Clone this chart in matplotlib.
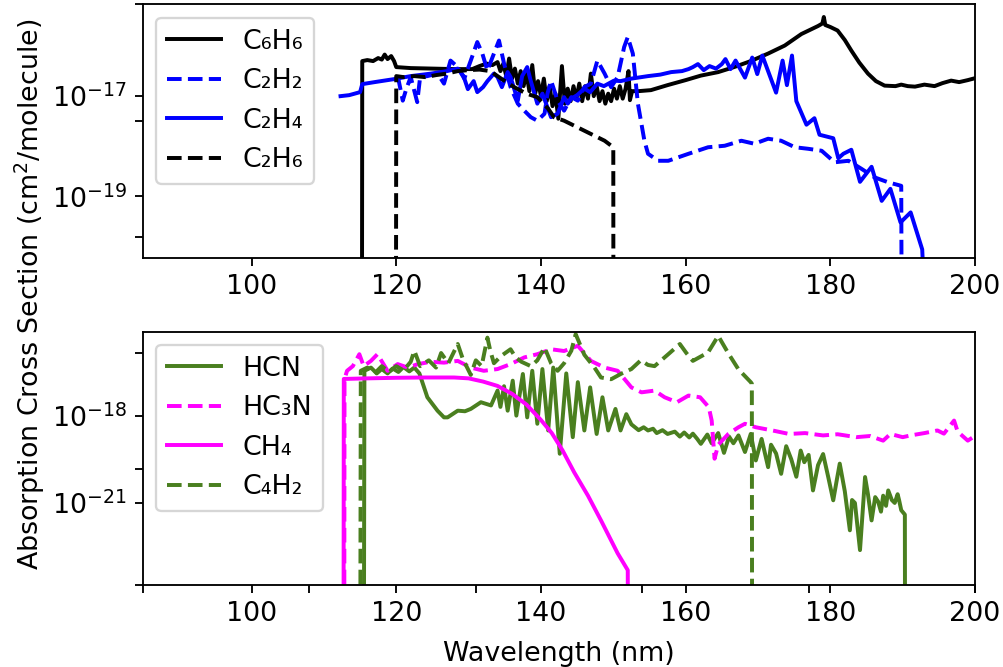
import numpy as np
import matplotlib.pyplot as plt

# wavelengths (nm) and log10 cross sections (cm^2/molecule)
c6h6_wl = [115.2, 115.3, 116.0, 116.8, 117.5, 118.0, 118.4, 118.8, 119.3, 119.7, 120.0, 122, 125, 128,
           130.5, 131.5, 132.5, 133.3, 134.0, 134.4, 134.8, 135.2, 135.6, 136.0, 136.4, 136.8, 137.2,
           137.6, 138.0, 138.4, 138.8, 139.2, 139.6, 140.0, 140.4, 140.8, 141.2, 141.6, 142.0, 142.4,
           142.9, 143.3, 143.7, 144.1, 144.5, 144.9, 145.3, 145.7, 146.1, 146.5, 146.9, 147.3, 147.7,
           148.1, 148.5, 148.9, 149.3, 149.7, 150.1, 150.5, 150.9, 151.3, 151.7, 152.1, 152.3, 152.6,
           153.5, 155.2, 157.5, 160.0, 162.1, 164.5, 166.7, 169.0, 171.4, 173.7, 176.0, 178.3, 178.9,
           179.1, 179.3, 180.0, 181.0, 182.0, 182.9, 184.0, 185.2, 186.3, 187.5, 189.0, 189.8, 190.7,
           191.7, 193.0, 194.4, 195.5, 196.7, 197.8, 199.0, 200.3]
c6h6_lg = [-30, -16.30, -16.28, -16.30, -16.24, -16.27, -16.17, -16.26, -16.20, -16.30, -16.42, -16.44,
           -16.45, -16.46, -16.46, -16.40, -16.35, -16.38, -16.32, -16.50, -16.35, -16.60, -16.25, -16.65,
           -16.45, -16.75, -16.50, -16.80, -16.55, -16.90, -16.38, -16.95, -16.70, -17.00, -16.65, -17.10,
           -16.80, -17.20, -16.95, -17.45, -16.40, -17.15, -16.85, -17.10, -16.80, -17.05, -16.75, -17.10,
           -16.80, -17.05, -16.55, -17.00, -16.80, -17.10, -16.90, -17.15, -16.95, -17.10, -16.85, -17.05,
           -16.80, -17.05, -16.85, -16.50, -17.08, -16.90, -16.90, -16.88, -16.78, -16.68, -16.59, -16.52,
           -16.42, -16.30, -16.15, -15.99, -15.76, -15.60, -15.55, -15.42, -15.58, -15.62, -15.69, -15.88,
           -16.09, -16.33, -16.55, -16.70, -16.79, -16.80, -16.77, -16.80, -16.81, -16.77, -16.80, -16.74,
           -16.69, -16.72, -16.68, -16.63]

c2h2_wl = [120.2, 120.9, 121.4, 122.0, 122.9, 123.3, 124.3, 125.7, 126.6, 127.5, 128.5, 129.4, 130.3,
           131.2, 131.9, 132.6, 133.5, 134.2, 134.9, 135.8, 136.8, 137.7, 138.6, 139.5, 140.5, 140.9,
           141.4, 142.3, 143.2, 144.2, 145.1, 146.0, 146.9, 147.8, 148.8, 149.7, 150.6, 151.5, 152.0,
           152.7, 153.4, 154.3, 154.8, 156.2, 157.6, 160.4, 163.1, 165.4, 167.7, 169.5, 171.4, 173.2,
           175.1, 176.9, 178.8, 180.6, 182.5, 184.3, 186.1, 188.0, 189.8, 190.05]
c2h2_lg = [-16.59, -17.09, -16.85, -16.62, -17.12, -16.62, -16.60, -16.55, -16.75, -16.29, -16.42, -16.65,
           -16.29, -15.92, -16.15, -16.49, -16.15, -15.89, -16.35, -16.82, -17.15, -17.29, -17.42, -17.49,
           -17.35, -16.95, -16.69, -17.09, -17.29, -17.02, -17.09, -16.82, -16.75, -16.29, -16.55, -16.82,
           -16.62, -16.02, -15.82, -16.15, -17.15, -17.89, -18.15, -18.29, -18.29, -18.15, -18.02, -17.99,
           -17.89, -17.95, -17.85, -17.89, -18.02, -18.05, -18.09, -18.32, -18.29, -18.45, -18.62, -18.72,
           -18.79, -30]

c2h4_wl = [112.3, 113.5, 115.0, 115.3, 117.0, 119.7, 122.0, 124.8, 127.0, 128.5, 129.3, 129.9, 130.7,
           131.2, 132.0, 132.6, 133.5, 134.0, 134.6, 135.4, 135.8, 136.8, 137.4, 138.1, 138.6, 139.5,
           140.2, 141.4, 142.3, 143.2, 143.7, 144.2, 145.0, 146.0, 146.8, 147.8, 148.7, 150.1, 151.0,
           152.5, 154.8, 156.5, 158.0, 159.5, 160.4, 161.0, 161.7, 162.5, 163.3, 164.2, 165.0, 165.5,
           166.2, 166.9, 168.2, 169.2, 169.9, 170.6, 172.5, 173.4, 174.0, 174.7, 175.3, 176.7, 177.8,
           178.5, 180.4, 181.1, 181.8, 182.9, 184.1, 185.7, 187.1, 188.3, 189.7, 191.1, 192.7, 193.0]
c2h4_lg = [-17.00, -16.98, -16.92, -16.76, -16.72, -16.66, -16.60, -16.55, -16.50, -16.45, -16.60, -16.86,
           -16.70, -16.92, -16.82, -16.70, -16.55, -16.62, -16.82, -16.52, -16.62, -17.09, -16.60, -16.42,
           -16.70, -17.15, -16.95, -17.42, -17.35, -17.02, -17.15, -17.05, -16.98, -16.85, -16.92, -16.75,
           -16.80, -16.69, -16.70, -16.65, -16.60, -16.57, -16.52, -16.50, -16.46, -16.42, -16.36, -16.48,
           -16.40, -16.45, -16.36, -16.26, -16.46, -16.29, -16.63, -16.23, -16.56, -16.19, -16.93, -16.29,
           -16.78, -16.19, -17.10, -17.57, -17.44, -17.77, -17.84, -18.24, -18.15, -18.07, -18.71, -18.41,
           -19.09, -18.85, -19.52, -19.32, -20.06, -21.0]

c2h6_wl = [119.9, 120.0, 121.0, 122.5, 124.0, 125.5, 127.0, 128.5, 130.0, 131.5, 133.0, 134.5, 136.3,
           138.0, 139.5, 141.0, 141.8, 143.2, 146.0, 148.8, 150.0, 150.05]
c2h6_lg = [-30, -16.60, -16.62, -16.60, -16.62, -16.58, -16.55, -16.50, -16.48, -16.47, -16.50, -16.65,
           -16.82, -16.95, -17.02, -17.25, -17.42, -17.49, -17.69, -17.89, -18.02, -30]

hcn_wl = [115.5, 115.6, 116.5, 117.3, 118.0, 118.8, 119.5, 120.3, 121.0, 121.8, 122.5, 123.2, 124.3,
          125.7, 126.6, 127.1, 128.5, 129.5, 130.3, 131.7, 133.1, 134.0, 134.4, 134.9, 135.4, 136.1,
          136.6, 137.5, 138.1, 138.8, 139.5, 140.2, 141.0, 141.7, 142.6, 143.5, 144.4, 145.1, 146.0,
          146.8, 147.7, 148.5, 149.3, 150.3, 151.0, 151.8, 152.5, 153.5, 154.2, 154.8, 155.5, 156.0,
          156.8, 157.5, 158.5, 159.2, 159.8, 160.5, 161.0, 161.6, 162.1, 163.0, 163.6, 164.5, 165.3,
          166.0, 166.6, 167.3, 168.2, 169.0, 169.7, 170.5, 171.4, 171.8, 172.5, 173.2, 173.9, 174.6,
          175.3, 175.9, 176.4, 177.0, 177.6, 178.3, 179.0, 179.7, 180.4, 180.9, 181.3, 182.0, 182.7,
          183.0, 183.4, 184.1, 184.8, 185.2, 185.7, 186.2, 186.6, 187.0, 187.3, 187.7, 188.0, 188.5,
          188.9, 189.3, 189.5, 189.8, 190.3, 190.35]
hcn_lg = [-30, -16.46, -16.35, -16.55, -16.40, -16.55, -16.38, -16.50, -16.33, -16.48, -16.35, -16.55,
          -17.37, -17.83, -18.06, -18.06, -17.83, -17.85, -17.77, -17.54, -17.65, -17.14, -17.70, -16.99,
          -17.83, -16.80, -18.00, -16.57, -18.06, -16.46, -18.28, -16.40, -18.51, -16.35, -19.31, -16.55,
          -18.74, -16.85, -18.51, -17.03, -18.63, -17.37, -18.51, -17.77, -18.51, -17.95, -18.30, -18.50,
          -18.40, -18.51, -18.45, -18.60, -18.50, -18.63, -18.55, -18.72, -18.58, -18.75, -18.62, -18.80,
          -18.97, -18.65, -18.95, -18.60, -19.28, -18.72, -18.95, -18.68, -19.25, -18.63, -19.54, -18.80,
          -19.77, -19.00, -19.30, -20.00, -19.05, -19.50, -20.10, -19.20, -19.60, -19.35, -20.57, -19.70,
          -19.32, -20.10, -20.91, -20.20, -19.65, -20.60, -21.94, -20.90, -21.00, -22.62, -20.11, -20.70,
          -21.60, -20.80, -20.95, -21.30, -20.75, -21.10, -20.57, -20.90, -21.00, -20.70, -20.90, -21.25,
          -21.40, -30]

hc3n_wl = [112.8, 112.85, 113.2, 114.0, 114.9, 115.5, 116.5, 117.4, 118.8, 120.2, 121.6, 123.0, 124.8,
           126.6, 128.5, 130.3, 132.1, 134.0, 135.8, 137.7, 139.5, 141.4, 143.2, 145.1, 146.9, 148.8,
           150.6, 152.5, 153.9, 155.7, 157.1, 158.8, 160.4, 162.0, 163.2, 163.6, 164.0, 164.5, 165.9,
           167.3, 168.2, 169.7, 172.0, 174.3, 176.5, 179.0, 181.0, 183.6, 185.5, 187.3, 188.3, 190.0,
           191.1, 193.0, 194.8, 195.7, 197.1, 197.6, 199.0, 200.4]
hc3n_lg = [-30, -16.74, -16.46, -16.30, -15.89, -16.30, -16.12, -15.89, -16.46, -16.23, -16.35, -16.23,
           -16.15, -16.18, -16.12, -16.35, -16.46, -16.40, -16.23, -16.00, -15.89, -15.72, -15.78, -15.60,
           -16.12, -16.35, -16.46, -17.03, -17.20, -17.14, -17.37, -17.54, -17.31, -17.37, -17.71, -18.17,
           -19.48, -19.00, -18.63, -18.40, -18.28, -18.40, -18.51, -18.63, -18.60, -18.68, -18.64, -18.74,
           -18.70, -18.86, -18.63, -18.74, -18.68, -18.60, -18.51, -18.62, -18.17, -18.55, -18.86, -18.63]

ch4_wl = [112.7, 112.75, 116, 120, 124, 128, 130, 132, 134, 136, 138, 140, 141.5, 143, 144.6, 146.5,
          148.3, 150.6, 152.0, 152.05]
ch4_lg = [-30, -16.74, -16.72, -16.70, -16.69, -16.69, -16.72, -16.83, -16.98, -17.25, -17.62, -18.15,
          -18.60, -19.20, -19.95, -20.75, -21.60, -22.73, -23.31, -30]

c4h2_wl = [115.0, 115.1, 116.0, 117.0, 118.0, 119.0, 120.0, 121.0, 122.0, 122.5, 123.3, 124.5, 125.5,
           126.2, 127.2, 128.5, 129.2, 130.3, 131.0, 131.8, 132.6, 133.0, 133.5, 134.5, 135.8, 136.5,
           137.3, 138.6, 139.5, 140.5, 141.4, 142.3, 143.2, 144.2, 144.8, 146.0, 147.4, 148.3, 149.7,
           151.1, 152.5, 153.8, 154.8, 155.7, 157.6, 159.2, 160.1, 161.0, 163.1, 164.5, 165.9, 167.3,
           169.0, 169.15, 169.2]
c4h2_lg = [-30, -16.46, -16.35, -16.55, -16.30, -16.50, -16.30, -16.45, -16.15, -15.77, -16.30, -16.10,
           -16.35, -15.85, -16.20, -15.54, -16.05, -16.60, -16.10, -16.30, -15.32, -15.77, -16.20, -15.95,
           -15.72, -16.00, -16.15, -16.30, -16.10, -15.66, -16.20, -16.46, -16.20, -15.77, -15.20, -15.91,
           -16.35, -16.69, -16.75, -16.56, -16.40, -16.10, -16.26, -16.30, -15.89, -15.54, -15.85, -16.12,
           -15.83, -15.26, -15.86, -16.41, -16.85, -16.90, -30]

green = '#4a7f1f'
plt.rcParams['lines.linewidth'] = 1.7
plt.rcParams['font.size'] = 11.6

fig, (ax1, ax2) = plt.subplots(2, 1, figsize=(6, 3.99), dpi=167.17)

ax1.plot(c6h6_wl, 10.0 ** np.array(c6h6_lg), 'k-', label='C₆H₆')
ax1.plot(c2h2_wl, 10.0 ** np.array(c2h2_lg), 'b--', label='C₂H₂')
ax1.plot(c2h4_wl, 10.0 ** np.array(c2h4_lg), 'b-', label='C₂H₄')
ax1.plot(c2h6_wl, 10.0 ** np.array(c2h6_lg), 'k--', label='C₂H₆')
ax1.set_yscale('log')
ax1.set_xlim(85, 200)
ax1.set_ylim(10 ** -20.23, 10 ** -15.17)
ax1.set_yticks([1e-17, 1e-19])
ax1.minorticks_off()
ax1.legend(loc='upper left')

ax2.plot(hcn_wl, 10.0 ** np.array(hcn_lg), '-', color=green, label='HCN')
ax2.plot(hc3n_wl, 10.0 ** np.array(hc3n_lg), '--', color='magenta', label='HC₃N')
ax2.plot(ch4_wl, 10.0 ** np.array(ch4_lg), '-', color='magenta', label='CH₄')
ax2.plot(c4h2_wl, 10.0 ** np.array(c4h2_lg), '--', color=green, label='C₄H₂')
ax2.set_yscale('log')
ax2.set_xlim(85, 200)
ax2.set_ylim(10 ** -23.82, 10 ** -15.11)
ax2.set_yticks([1e-18, 1e-21])
ax2.minorticks_off()
ax2.legend(loc='upper left')

# shared labels via a frameless axes covering both panels (ticks kept, labels hidden)
big = fig.add_subplot(111, frameon=False)
big.tick_params(labelleft=False, labelbottom=False)
big.set_xlabel('Wavelength (nm)')
big.set_ylabel('Absorption Cross Section (cm$^2$/molecule)')
big.yaxis.set_label_coords(-0.115, 0.5)
big.xaxis.set_label_coords(0.5, -0.097)

fig.subplots_adjust(left=0.1426, right=0.9721, top=0.9933, bottom=0.1229, hspace=0.29)

plt.savefig('out.png', dpi=167.17)
plt.close()
